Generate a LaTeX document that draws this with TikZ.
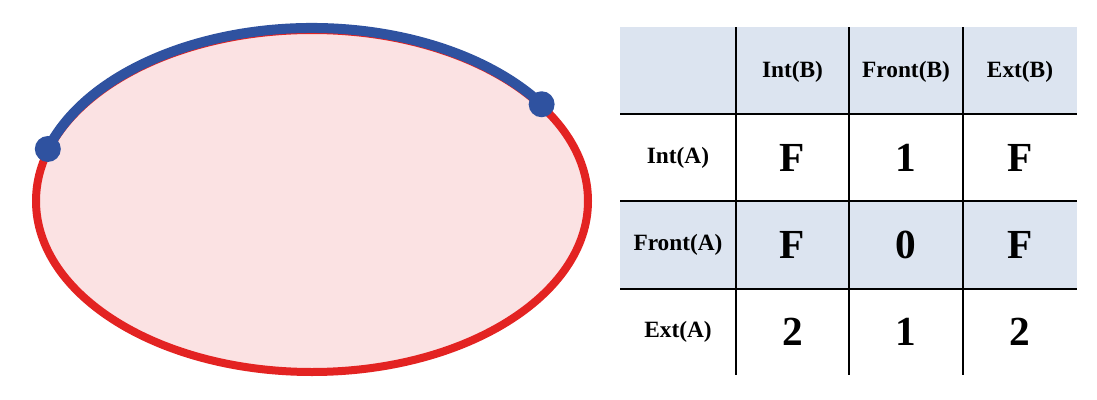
\documentclass[tikz,border=0pt]{standalone}
\usepackage{fontspec}
\setmainfont{Liberation Serif}
\definecolor{redline}{HTML}{E32322}
\definecolor{pinkfill}{HTML}{FBE2E3}
\definecolor{blueline}{HTML}{2F52A0}
\definecolor{cellblue}{HTML}{DCE4F0}
\begin{document}
\begin{tikzpicture}[x=0.75pt,y=0.75pt,
  hdr/.style={font=\bfseries\fontsize{17.5}{20}\selectfont},
  val/.style={font=\bfseries\fontsize{31}{34}\selectfont},
  grid/.style={line width=1.5pt,black},
  dot/.style={circle,fill=blueline,inner sep=0pt,minimum size=19.5pt}]
\useasboundingbox (0,0) rectangle (1097,-400);
% ellipse
\draw[redline,line width=6pt,fill=pinkfill] (312,-201) ellipse [x radius=276, y radius=171];
\node[dot] (p1) at ({312+277*cos(162.5)},{-201+173*sin(162.5)}) {};
\node[dot] (p2) at ({312+277*cos(34)},{-201+173*sin(34)}) {};
\draw[blueline,line width=7.5pt,line cap=round] (p1.center) arc[start angle=162.5,end angle=34,x radius=277,y radius=173];
% table fills
\fill[cellblue] (620,-27) rectangle (1077,-114);
\fill[cellblue] (620,-201) rectangle (1077,-289);
% grid
\foreach \yy in {114,201,289} \draw[grid] (620,-\yy) -- (1077,-\yy);
\foreach \xx in {736,849,963} \draw[grid] (\xx,-27) -- (\xx,-375);
% header
\node[hdr] (hb1) at (792.5,-72) {Int(B)};
\node[hdr] (hb2) at (906,-72) {Front(B)};
\node[hdr] (hb3) at (1020,-72) {Ext(B)};
\node[hdr] (ha1) at (678,-158) {Int(A)};
\node[hdr] (ha2) at (678,-245) {Front(A)};
\node[hdr] (ha3) at (678,-332) {Ext(A)};
% values
\node[val] (v11) at (792.5,-158) {F};
\node[val] (v12) at (906,-158) {1};
\node[val] (v13) at (1020,-158) {F};
\node[val] (v21) at (792.5,-245) {F};
\node[val] (v22) at (906,-245) {0};
\node[val] (v23) at (1020,-245) {F};
\node[val] (v31) at (792.5,-332) {2};
\node[val] (v32) at (906,-332) {1};
\node[val] (v33) at (1020,-332) {2};
\end{tikzpicture}
\end{document}
